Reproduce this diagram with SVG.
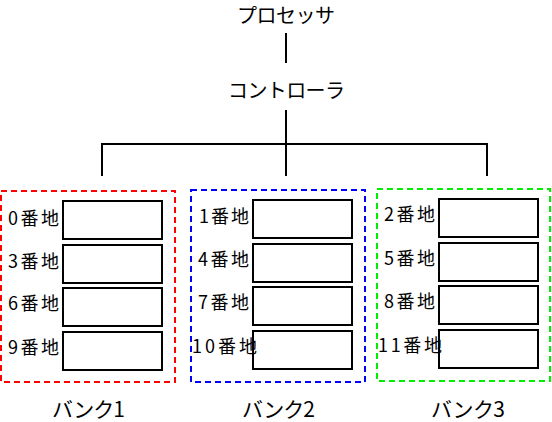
<svg xmlns="http://www.w3.org/2000/svg" width="552" height="422" viewBox="0 0 552 422">
<style>
text{font-family:"Noto Sans CJK JP","Noto Sans",sans-serif;fill:#000}
.big{font-size:20px}
.bl{font-size:21px}
.lab{font-size:18px}
.cell{fill:#fff;stroke:#000;stroke-width:2}
.bank{fill:none;stroke-width:2;stroke-dasharray:6 4}
.conn{fill:none;stroke:#000;stroke-width:2}
</style>
<rect width="552" height="422" fill="#fff"/>
<g id="connectors">
<line class="conn" x1="286" y1="33" x2="286" y2="63"/>
<line class="conn" x1="286" y1="110" x2="286" y2="176"/>
<polyline class="conn" points="102,176 102,144 487,144 487,176"/>
</g>
<g id="processor"><text class="big" x="237" y="23" textLength="98" lengthAdjust="spacing">プロセッサ</text></g>
<g id="controller"><text class="big" x="228" y="98" textLength="117" lengthAdjust="spacing">コントローラ</text></g>
<g id="bank1">
<rect class="bank" x="1" y="191" width="174" height="191" stroke="#f00"/>
<rect class="cell" x="63" y="201" width="99" height="38"/>
<rect class="cell" x="63" y="245" width="99" height="38"/>
<rect class="cell" x="63" y="288" width="99" height="38"/>
<rect class="cell" x="63" y="332" width="99" height="38"/>
<text class="lab" x="8" y="225" textLength="51" lengthAdjust="spacing">0番地</text>
<text class="lab" x="8" y="268" textLength="51" lengthAdjust="spacing">3番地</text>
<text class="lab" x="8" y="310" textLength="51" lengthAdjust="spacing">6番地</text>
<text class="lab" x="8" y="354" textLength="51" lengthAdjust="spacing">9番地</text>
<text class="bl" x="52" y="417" textLength="73" lengthAdjust="spacing">バンク1</text>
</g>
<g id="bank2">
<rect class="bank" x="191" y="190" width="174" height="192" stroke="#00f"/>
<rect class="cell" x="253" y="200" width="99" height="38"/>
<rect class="cell" x="253" y="244" width="99" height="38"/>
<rect class="cell" x="253" y="287" width="99" height="38"/>
<rect class="cell" x="253" y="331" width="99" height="38"/>
<text class="lab" x="199" y="223" textLength="50" lengthAdjust="spacing">1番地</text>
<text class="lab" x="198" y="266" textLength="51" lengthAdjust="spacing">4番地</text>
<text class="lab" x="198" y="309" textLength="51" lengthAdjust="spacing">7番地</text>
<text class="lab" x="192" y="353" textLength="65" lengthAdjust="spacing">10番地</text>
<text class="bl" x="242" y="417" textLength="73" lengthAdjust="spacing">バンク2</text>
</g>
<g id="bank3">
<rect class="bank" x="377" y="189" width="173" height="192" stroke="#0e0"/>
<rect class="cell" x="439" y="199" width="99" height="38"/>
<rect class="cell" x="439" y="243" width="99" height="38"/>
<rect class="cell" x="439" y="286" width="99" height="38"/>
<rect class="cell" x="439" y="330" width="99" height="38"/>
<text class="lab" x="384" y="221" textLength="51" lengthAdjust="spacing">2番地</text>
<text class="lab" x="384" y="265" textLength="51" lengthAdjust="spacing">5番地</text>
<text class="lab" x="384" y="308" textLength="51" lengthAdjust="spacing">8番地</text>
<text class="lab" x="378" y="352" textLength="64" lengthAdjust="spacing">11番地</text>
<text class="bl" x="431" y="417" textLength="74" lengthAdjust="spacing">バンク3</text>
</g>
</svg>
